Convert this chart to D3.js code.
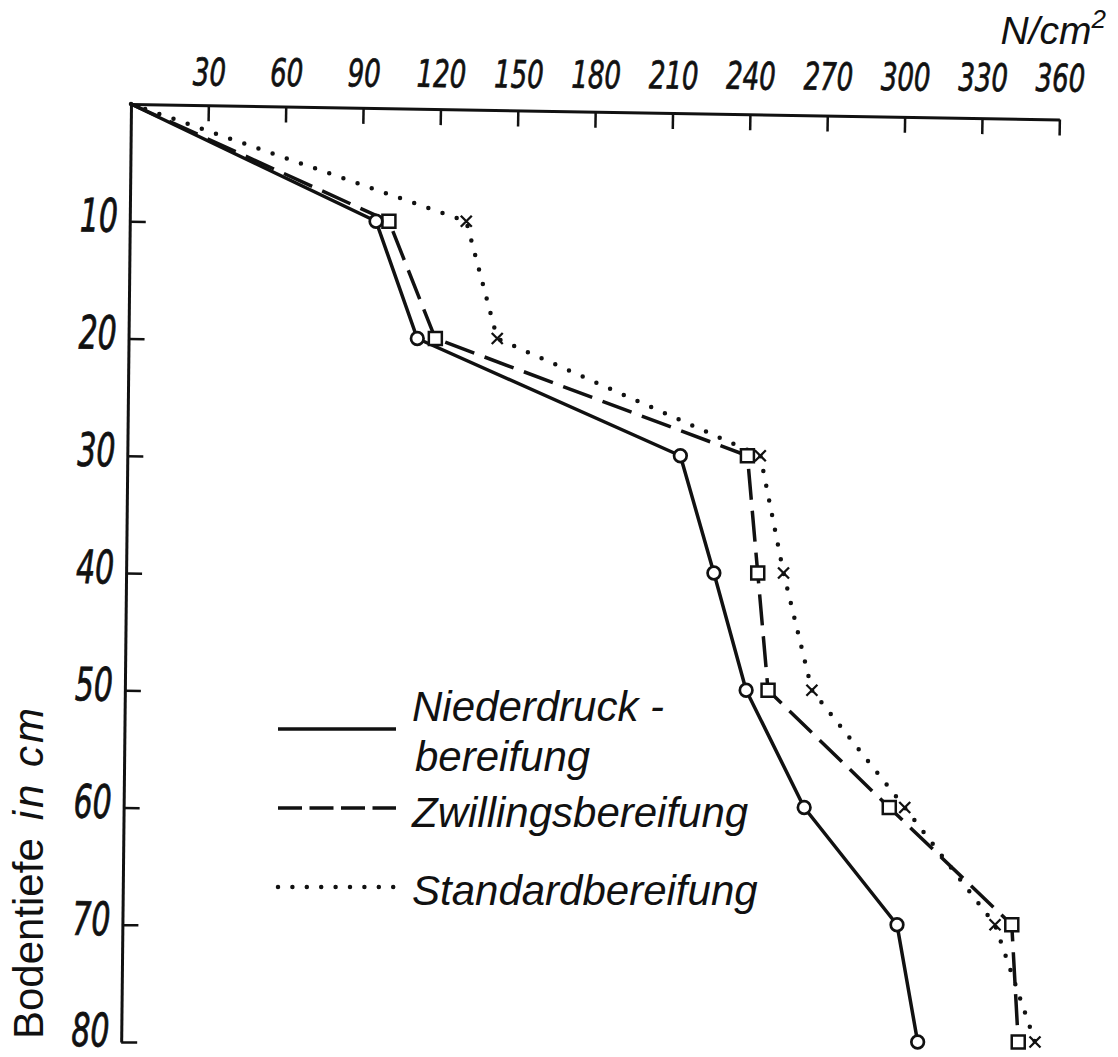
<!DOCTYPE html>
<html>
<head>
<meta charset="utf-8">
<script src="https://cdnjs.cloudflare.com/ajax/libs/d3/7.8.5/d3.min.js"></script>
<style>
body { margin: 0; background: #fff; }
svg { display: block; }
</style>
</head>
<body>
<div id="chart"></div>
<script>
// depth in cm, values in N/cm2
var depth = [0, 10, 20, 30, 40, 50, 60, 70, 80];
var niederdruck = [0, 95, 111, 213, 226, 238.5, 261, 297, 305];
var zwillings = [0, 100, 118, 239, 243, 247, 294, 341.5, 344];
var standard = [0, 130, 142, 244, 253, 264, 300, 335, 350.5];
var xTicks = [30, 60, 90, 120, 150, 180, 210, 240, 270, 300, 330, 360];
var yTicks = [10, 20, 30, 40, 50, 60, 70, 80];
var seriesNames = [["Niederdruck -", "bereifung"], ["Zwillingsbereifung"], ["Standardbereifung"]];
var unitLabel = "N/cm";
var yTitle = ["Bodentiefe", "in cm"];

var W = 1118, H = 1057;
var ink = "#111";
var tickFont = "'DejaVu Sans Condensed', 'Liberation Sans', sans-serif";
var textFont = "'Liberation Sans', 'DejaVu Sans', sans-serif";

var svg = d3.select("#chart").append("svg").attr("width", W).attr("height", H);

var x = d3.scaleLinear().domain([0, 360]).range([131, 1059.5]);
var y = d3.scaleLinear().domain([0, 80]).range([104, 1042]);

// top axis (scan is slightly skewed)
var gx = svg.append("g")
  .attr("transform", "translate(0," + y(0) + ") rotate(0.95," + x(0) + ",0)")
  .call(d3.axisTop(x).tickValues(xTicks).tickSize(-16).tickSizeOuter(0).tickPadding(19));
gx.select(".domain").attr("stroke", ink).attr("stroke-width", 3);
gx.selectAll(".tick line").attr("stroke", ink).attr("stroke-width", 2.5);
gx.selectAll(".tick text")
  .attr("y", function(d) { return -19 - 9 * d / 360; })
  .attr("fill", ink).attr("stroke", ink).attr("stroke-width", 0.7)
  .attr("textLength", function(d) { return String(d).length * 16.5; })
  .attr("lengthAdjust", "spacingAndGlyphs")
  .style("font-family", tickFont).style("font-style", "italic").style("font-size", "38px");

// left axis
var gy = svg.append("g")
  .attr("transform", "translate(" + x(0) + ",0) rotate(0.6,0," + y(0) + ")")
  .call(d3.axisLeft(y).tickValues(yTicks).tickSize(-16).tickSizeOuter(0).tickPadding(12));
gy.select(".domain").attr("stroke", ink).attr("stroke-width", 3);
gy.selectAll(".tick line").attr("stroke", ink).attr("stroke-width", 2.5);
gy.selectAll(".tick text")
  .attr("dy", function(d) { return d == 80 ? "0.09em" : "0.22em"; })
  .attr("fill", ink).attr("stroke", ink).attr("stroke-width", 0.8)
  .attr("textLength", 38)
  .attr("lengthAdjust", "spacingAndGlyphs")
  .style("font-family", tickFont).style("font-style", "italic").style("font-size", "46px");

// unit label
var ul = svg.append("text").attr("x", 1106).attr("y", 44).attr("text-anchor", "end")
  .attr("fill", ink).style("font-family", textFont).style("font-style", "italic").style("font-size", "39px")
  .text(unitLabel);
ul.append("tspan").attr("dy", -16).style("font-size", "26px").text("2");

// y axis title
var yt = svg.append("text").attr("transform", "translate(43,872) rotate(-90)").attr("text-anchor", "middle")
  .attr("fill", ink).style("font-family", textFont).style("font-size", "42px");
yt.append("tspan").text(yTitle[0]);
yt.append("tspan").attr("dx", 18).style("font-style", "italic").style("letter-spacing", "3px").text(yTitle[1]);

var series = [
  { values: niederdruck, dash: null, legDash: null, width: 3.5, marker: "circle" },
  { values: zwillings, dash: "31,11", legDash: "24,7.5", width: 3.5, marker: "square" },
  { values: standard, dash: "0,15", legDash: "0,14.4", width: 4.5, marker: "cross" }
];

var line = d3.line().x(function(d) { return x(d[0]); }).y(function(d) { return y(d[1]); });

series.forEach(function(s) {
  var pts = s.values.map(function(v, i) { return [v, depth[i]]; });
  s.pts = pts;
  svg.append("path").datum(pts).attr("d", line)
    .attr("fill", "none").attr("stroke", ink).attr("stroke-width", s.width)
    .attr("stroke-linecap", s.marker == "cross" ? "round" : "butt")
    .attr("stroke-linejoin", "round")
    .attr("stroke-dasharray", s.dash);
});

series.slice().reverse().forEach(function(s) {
  var pts = s.pts.slice(1);
  var g = svg.append("g");
  if (s.marker == "circle") {
    g.selectAll("circle").data(pts).enter().append("circle")
      .attr("cx", function(d) { return x(d[0]); }).attr("cy", function(d) { return y(d[1]); })
      .attr("r", 6.3).attr("fill", "#fff").attr("stroke", ink).attr("stroke-width", 2.7);
  } else if (s.marker == "square") {
    g.selectAll("rect").data(pts).enter().append("rect")
      .attr("x", function(d) { return x(d[0]) - 6.5; }).attr("y", function(d) { return y(d[1]) - 6.5; })
      .attr("width", 13).attr("height", 13).attr("fill", "#fff").attr("stroke", ink).attr("stroke-width", 2.5);
  } else {
    g.selectAll("path").data(pts).enter().append("path")
      .attr("d", function(d) {
        var cx = x(d[0]), cy = y(d[1]), r = 5.5;
        return "M" + (cx - r) + "," + (cy - r) + "L" + (cx + r) + "," + (cy + r) +
          "M" + (cx - r) + "," + (cy + r) + "L" + (cx + r) + "," + (cy - r);
      })
      .attr("stroke", ink).attr("stroke-width", 2.3);
  }
});

// legend
var legY = [729, 808, 887];
var legTextY = [[721, 771], [827], [905]];
series.forEach(function(s, i) {
  svg.append("line").attr("x1", 278).attr("x2", 396).attr("y1", legY[i]).attr("y2", legY[i])
    .attr("stroke", ink).attr("stroke-width", s.width)
    .attr("stroke-linecap", s.marker == "cross" ? "round" : "butt")
    .attr("stroke-dasharray", s.legDash);
  seriesNames[i].forEach(function(t, j) {
    svg.append("text").attr("x", j == 0 ? 412 : 415).attr("y", legTextY[i][j])
      .attr("fill", ink).style("font-family", textFont).style("font-style", "italic").style("font-size", "42px")
      .text(t);
  });
});
</script>
</body>
</html>
